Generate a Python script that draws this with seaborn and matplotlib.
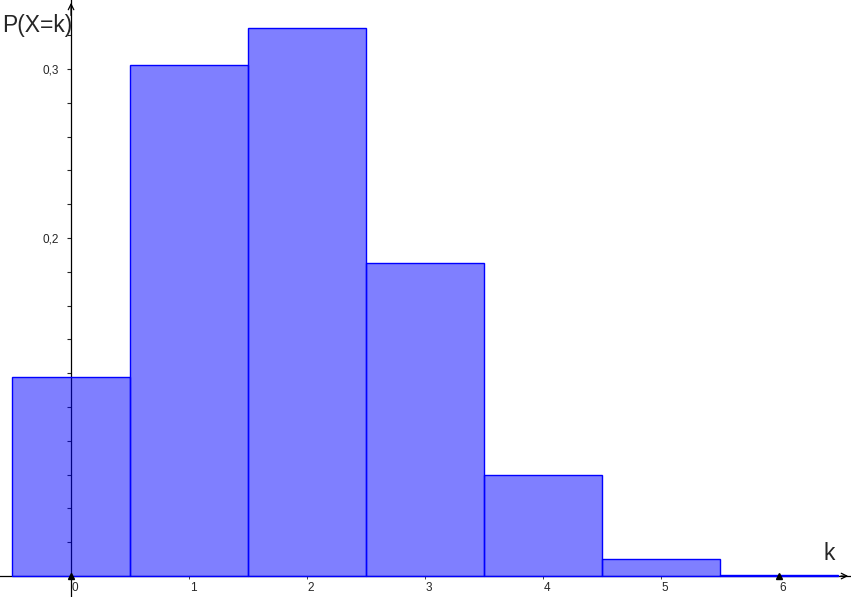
import matplotlib
matplotlib.use("Agg")
import matplotlib.pyplot as plt
import matplotlib.transforms as mtransforms
import seaborn as sns

# binomial-looking distribution
k_values = [0, 1, 2, 3, 4, 5, 6]
probs = [0.1176, 0.3025, 0.3241, 0.1852, 0.0595, 0.0102, 0.0007]
y_ticks = [0.1, 0.2, 0.3]
y_tick_labels = ["", "0,2", "0,3"]
x_tick_labels = ["0", "1", "2", "3", "4", "5", "6"]
marked_k = [0, 6]

sns.set_style("white")
plt.rcParams["font.family"] = ["Liberation Sans", "DejaVu Sans"]

fig = plt.figure(figsize=(8.51, 5.97), dpi=100)
ax = fig.add_axes([0, 0, 1, 1])

sns.barplot(x=k_values, y=probs, ax=ax, width=1, saturation=1,
            color=(0, 0, 1, 0.5), edgecolor="blue", linewidth=1.0, zorder=3)

ax.set_xlim(-0.602, 6.61)
ax.set_ylim(-0.0124, 0.3408)

# axes through the origin, GeoGebra style
for side in ["top", "right"]:
    ax.spines[side].set_visible(False)
ax.spines["left"].set_position(("data", 0))
ax.spines["bottom"].set_position(("data", 0))
for side in ["left", "bottom"]:
    ax.spines[side].set_color("black")
    ax.spines[side].set_linewidth(0.9)
    ax.spines[side].set_zorder(2)

ax.annotate("", xy=(6.61, 0), xytext=(6.5, 0), annotation_clip=False,
            arrowprops=dict(arrowstyle="->", color="black", lw=0.9))
ax.annotate("", xy=(0, 0.3408), xytext=(0, 0.33), annotation_clip=False,
            arrowprops=dict(arrowstyle="->", color="black", lw=0.9))

ax.set_yticks(y_ticks)
ax.set_yticklabels(y_tick_labels)
ax.set_yticks([v / 100 for v in range(2, 34, 2)], minor=True)
ax.tick_params(axis="y", which="both", direction="out", length=3, width=0.8,
               labelsize=8.5, pad=6, left=True)
ax.set_xticks(k_values)
ax.set_xticklabels(x_tick_labels)
ax.tick_params(axis="x", direction="out", length=2, width=0.6,
               labelsize=8.5, pad=2, bottom=True)
offset = mtransforms.ScaledTranslation(4 / 100, 0, fig.dpi_scale_trans)
for lbl in ax.get_xticklabels():
    lbl.set_transform(lbl.get_transform() + offset)

ax.plot(marked_k, [0] * len(marked_k), linestyle="none", marker="^",
        markersize=4, color="black", zorder=4)

ax.set_xlabel("")
ax.set_ylabel("")
ax.text(0.0024, 0.946, "P(X=k)", transform=ax.transAxes, fontsize=16.5,
        ha="left", va="baseline")
ax.text(0.968, 0.062, "k", transform=ax.transAxes, fontsize=16.5,
        ha="left", va="baseline")

fig.savefig("out.png", dpi=100)
